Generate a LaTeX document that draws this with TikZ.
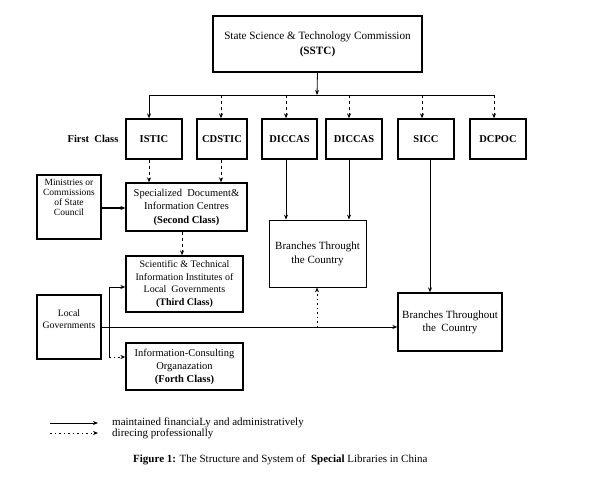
\documentclass[tikz,border=0pt]{standalone}
\usepackage{fontspec}
\setmainfont{Liberation Serif}
\usetikzlibrary{arrows.meta,calc}
\tikzset{
  box/.style={draw,line width=1.3pt,align=center,inner sep=1pt,font=\fontsize{10.5}{12.5}\selectfont},
  cls/.style={box,font=\fontsize{10.5}{12}\selectfont\bfseries},
  admin/.style={line width=0.8pt,-{Stealth[length=5pt,width=4pt]}},
  prof/.style={line width=0.9pt,dash pattern=on 3pt off 3pt,-{Stealth[length=5pt,width=4pt]}},
  dotl/.style={line width=1pt,dash pattern=on 1.5pt off 3pt,-{Stealth[length=5pt,width=4pt]}},
  plain/.style={line width=0.8pt}
}
\begin{document}
\begin{tikzpicture}[x=1pt,y=-1pt]
\useasboundingbox (0,0) rectangle (600,492);
% top
\node[box,minimum width=209pt,minimum height=56pt,line width=1.1pt,font=\fontsize{11.2}{15}\selectfont] (sstc) at (317.5,44)
  {State Science \& Technology Commission\\ \textbf{(SSTC)}};
% first class
\node[font=\fontsize{10.5}{12}\selectfont\bfseries] (fc) at (93,139) {First\ \ Class};
\node[cls,minimum width=56pt,minimum height=40pt] (istic) at (154,139) {ISTIC};
\node[cls,minimum width=50pt,minimum height=40pt] (cdstic) at (222,139) {CDSTIC};
\node[cls,minimum width=55pt,minimum height=40pt] (dic1) at (289.5,139) {DICCAS};
\node[cls,minimum width=56pt,minimum height=40pt] (dic2) at (354,139) {DICCAS};
\node[cls,minimum width=56pt,minimum height=40pt] (sicc) at (426,139) {SICC};
\node[cls,minimum width=56pt,minimum height=40pt] (dcpoc) at (498,139) {DCPOC};
% second row
\node[box,minimum width=64pt,minimum height=64pt,font=\fontsize{9.5}{10}\selectfont] (min) at (69,207)
  {Ministries or\\Commissions\\of State\\Council\\[9pt]};
\node[box,minimum width=121pt,minimum height=48pt,font=\fontsize{10.5}{13.5}\selectfont] (spec) at (186.5,207)
  {Specialized\ \ Document\&\\Information Centres\\ \textbf{(Second Class)}};
\node[box,line width=0.8pt,minimum width=97pt,minimum height=67pt,font=\fontsize{11}{14}\selectfont] (br1) at (317.5,253.5)
  {Branches Throught\\the Country};
\node[box,minimum width=117pt,minimum height=56pt,font=\fontsize{10}{12.5}\selectfont] (third) at (184.5,284)
  {Scientific \& Technical\\Information Institutes of\\Local\ \ Governments\\ \textbf{(Third Class)}};
\node[box,minimum width=64pt,minimum height=64pt,font=\fontsize{9.8}{12}\selectfont] (local) at (69,327)
  {Local\\Governments\\[3pt]};
\node[box,minimum width=104pt,minimum height=58pt,font=\fontsize{11}{13}\selectfont] (br2) at (450,322)
  {Branches Throughout\\the\ \ Country};
\node[box,minimum width=117pt,minimum height=47pt,font=\fontsize{10.5}{13}\selectfont] (forth) at (184.5,366.5)
  {Information-Consulting\\Organazation\\ \textbf{(Forth Class)}};
% bus
\coordinate (b0) at (317,95);
\coordinate (b1) at (149,95);
\coordinate (b2) at (221,95);
\coordinate (b3) at (286,95);
\coordinate (b4) at (349,95);
\coordinate (b5) at (422,95);
\coordinate (b6) at (494,95);
\draw[admin] (sstc.south) -- (b0);
\draw[plain] (b1) -- (b6);
\draw[admin] (b1) -- (b1 |- istic.north);
\draw[prof] (b2) -- (b2 |- cdstic.north);
\draw[prof] (b3) -- (b3 |- dic1.north);
\draw[prof] (b4) -- (b4 |- dic2.north);
\draw[prof] (b5) -- (b5 |- sicc.north);
\draw[prof] (b6) -- (b6 |- dcpoc.north);
% first -> second
\draw[prof] (b1 |- istic.south) -- (b1 |- spec.north);
\draw[prof] (b2 |- cdstic.south) -- (b2 |- spec.north);
\draw[admin,line width=1.8pt] (min.east |- 0,208) -- (spec.west |- 0,208);
\draw[admin] (b3 |- dic1.south) -- (b3 |- br1.north);
\draw[admin] (b4 |- dic2.south) -- (b4 |- br1.north);
\coordinate (sx) at (430,0);
\draw[admin] (sx |- sicc.south) -- (sx |- br2.north);
\coordinate (tx) at (182,0);
\draw[prof] (tx |- spec.south) -- (tx |- third.north);
% local governments
\coordinate (j) at (109,327);
\coordinate (jy) at (317,327);
\draw[admin] (local.east |- j) -- (br2.west |- j);
\draw[plain] (j) -- (109,287);
\draw[admin] (109,287) -- (third.west |- 0,287);
\draw[plain] (j) -- (109,357);
\draw[dotl] (109,357) -- (forth.west |- 0,357);
\draw[dotl] (jy) -- (jy |- br1.south);
% legend
\coordinate (l1) at (50,423);
\coordinate (l2) at (98,423);
\coordinate (l3) at (50,433);
\coordinate (l4) at (98,433);
\draw[admin] (l1) -- (l2);
\draw[dotl] (l3) -- (l4);
\node[anchor=west,inner sep=0pt,font=\fontsize{11}{12}\selectfont] (t1) at (112,423) {maintained financiaLy and administratively};
\node[anchor=west,inner sep=0pt,font=\fontsize{11}{12}\selectfont] (t2) at (112,434) {direcing professionally};
\node[anchor=west,inner sep=0pt,font=\fontsize{11}{12}\selectfont] (cap) at (133,460)
  {\textbf{Figure 1:} The Structure and System of\ \ \textbf{Special} Libraries in China};
\end{tikzpicture}
\end{document}
